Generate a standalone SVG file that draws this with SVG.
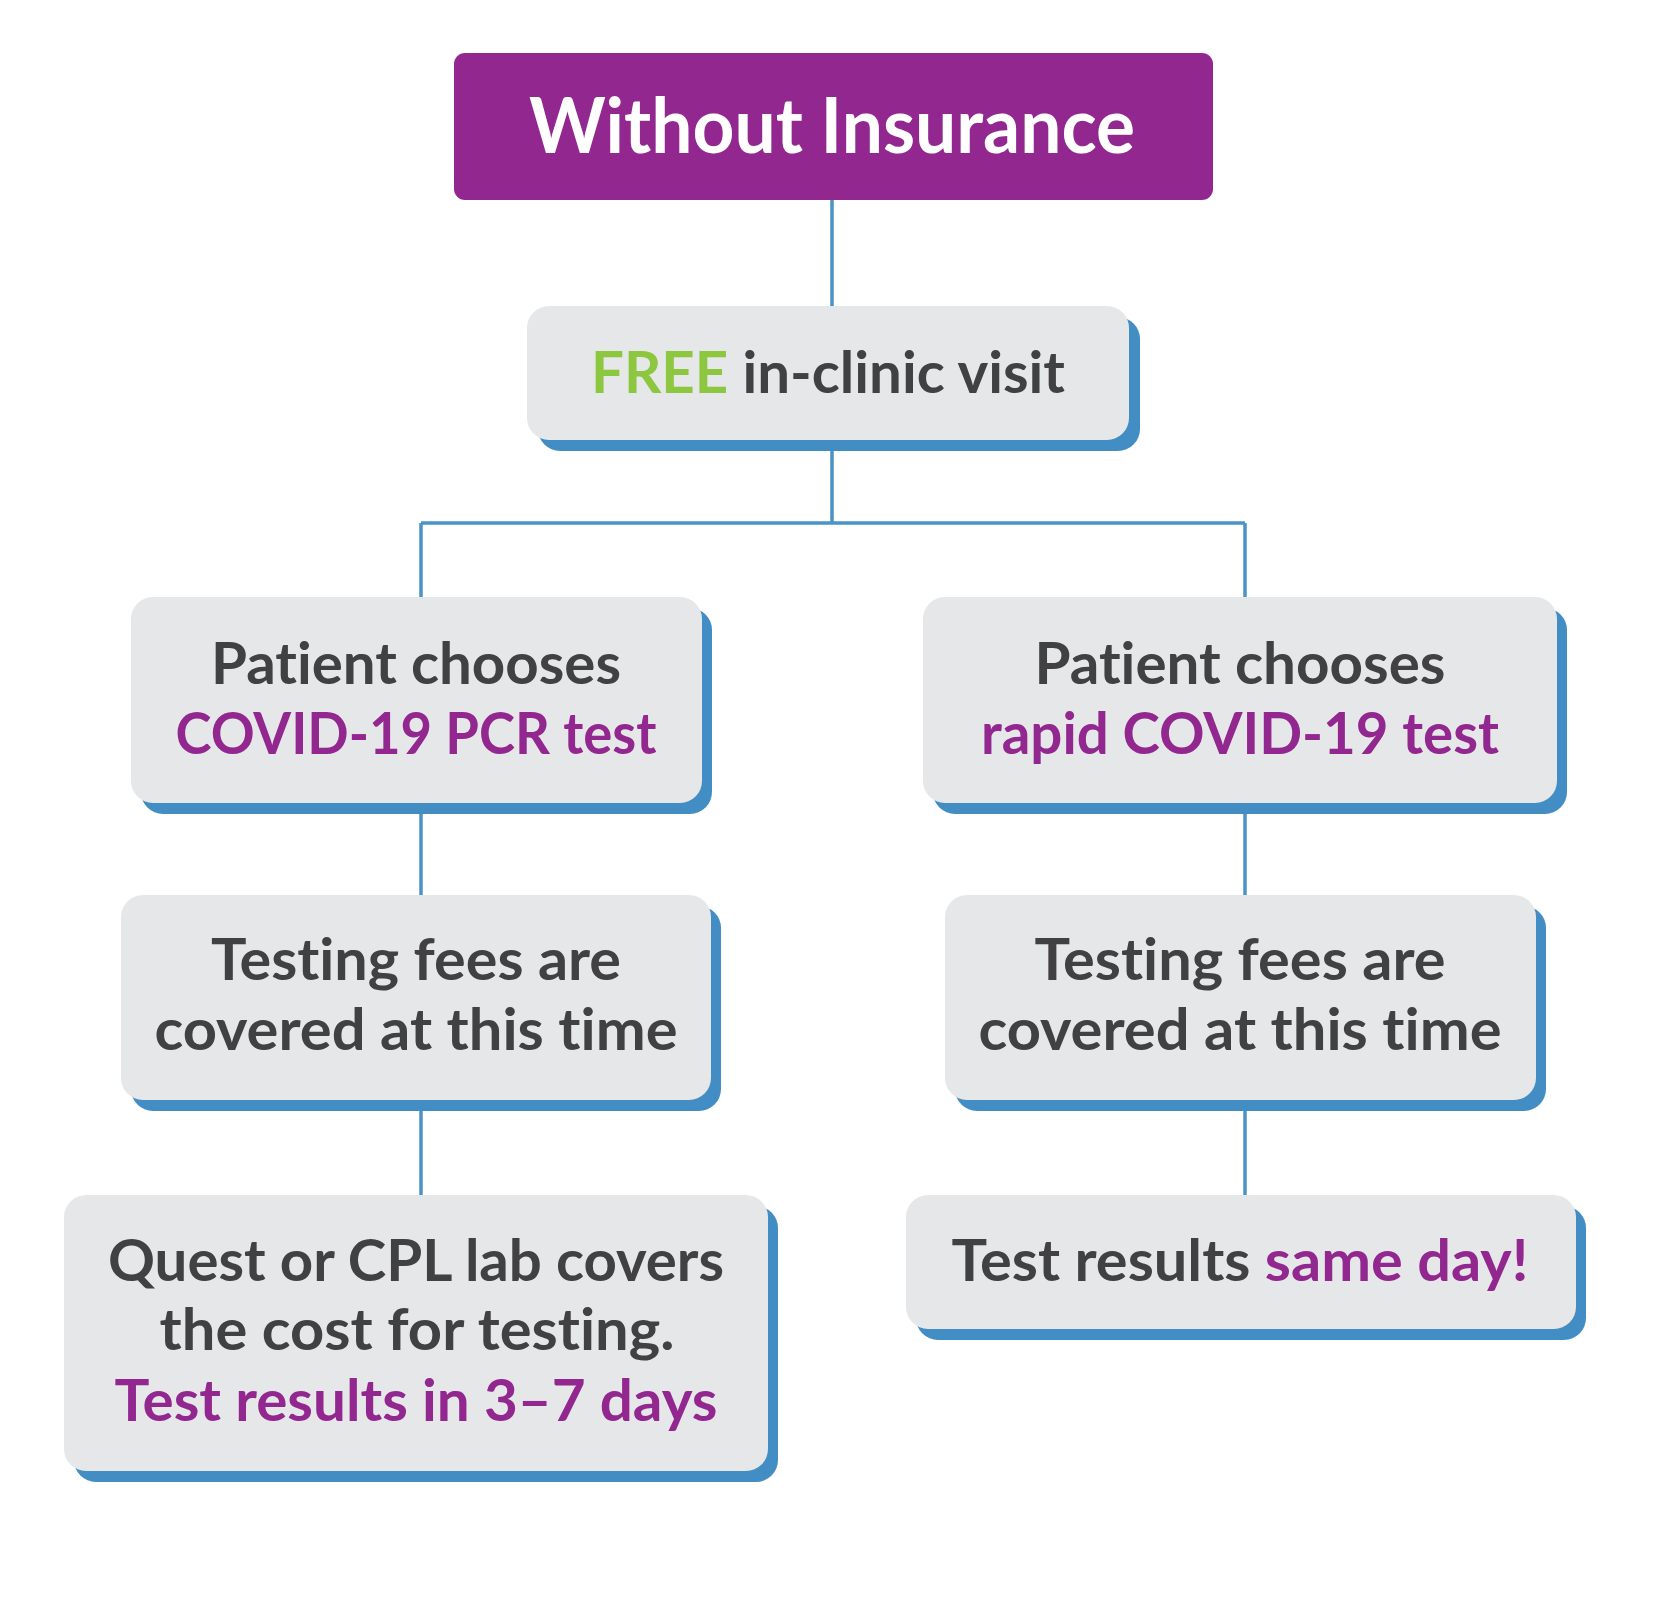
<svg xmlns="http://www.w3.org/2000/svg" width="1667" height="1599" viewBox="0 0 1667 1599">
<style>
.box{fill:#e6e7e8}
.sh{fill:#428dc3}
.t{font-family:Lato,"Open Sans","Liberation Sans",sans-serif;font-weight:700;font-size:57px;fill:#414042;text-anchor:middle;font-variant-ligatures:none}
.p{fill:#92278f}
.g{fill:#8dc63f}
.ln{stroke:#4a93c6;stroke-width:3.5;fill:none}
</style>
<rect width="1667" height="1599" fill="#ffffff"/>
<g id="connectors">
<line class="ln" x1="832" y1="200" x2="832" y2="308"/>
<path class="ln" d="M832 440 V523 M421 523 H1245 M421 523 V597 M1245 523 V597"/>
<line class="ln" x1="421" y1="803" x2="421" y2="895"/>
<line class="ln" x1="1245" y1="803" x2="1245" y2="895"/>
<line class="ln" x1="421" y1="1100" x2="421" y2="1195"/>
<line class="ln" x1="1245" y1="1100" x2="1245" y2="1195"/>
</g>
<g id="title">
<rect x="454" y="53" width="759" height="147" rx="11" fill="#92278f"/>
<text class="t" x="832" y="153" style="fill:#ffffff;font-weight:700;font-size:76px" textLength="606" lengthAdjust="spacingAndGlyphs">Without Insurance</text>
</g>
<g id="free-visit">
<rect class="sh" x="538" y="317" width="602" height="134" rx="22"/>
<rect class="box" x="527" y="306" width="602" height="134" rx="22"/>
<text class="t" x="828" y="393" textLength="474" lengthAdjust="spacingAndGlyphs"><tspan class="g">FREE</tspan> in-clinic visit</text>
</g>
<g id="pcr">
<rect class="sh" x="141" y="608" width="571" height="206" rx="22"/>
<rect class="box" x="131" y="597" width="571" height="206" rx="22"/>
<text class="t" x="416" y="684" textLength="410" lengthAdjust="spacingAndGlyphs">Patient chooses</text>
<text class="t p" x="416" y="754" textLength="481" lengthAdjust="spacingAndGlyphs">COVID-19 PCR test</text>
</g>
<g id="rapid">
<rect class="sh" x="933" y="608" width="634" height="206" rx="22"/>
<rect class="box" x="923" y="597" width="634" height="206" rx="22"/>
<text class="t" x="1240" y="684" textLength="411" lengthAdjust="spacingAndGlyphs">Patient chooses</text>
<text class="t p" x="1240" y="754" textLength="518" lengthAdjust="spacingAndGlyphs">rapid COVID-19 test</text>
</g>
<g id="fees-left">
<rect class="sh" x="131" y="906" width="590" height="205" rx="22"/>
<rect class="box" x="121" y="895" width="590" height="205" rx="22"/>
<text class="t" x="416" y="980" textLength="410" lengthAdjust="spacingAndGlyphs">Testing fees are</text>
<text class="t" x="416" y="1050" textLength="523" lengthAdjust="spacingAndGlyphs">covered at this time</text>
</g>
<g id="fees-right">
<rect class="sh" x="955" y="906" width="591" height="205" rx="22"/>
<rect class="box" x="945" y="895" width="591" height="205" rx="22"/>
<text class="t" x="1240" y="980" textLength="411" lengthAdjust="spacingAndGlyphs">Testing fees are</text>
<text class="t" x="1240" y="1050" textLength="523" lengthAdjust="spacingAndGlyphs">covered at this time</text>
</g>
<g id="lab">
<rect class="sh" x="74" y="1206" width="704" height="276" rx="22"/>
<rect class="box" x="64" y="1195" width="704" height="276" rx="22"/>
<text class="t" x="416" y="1281" textLength="616" lengthAdjust="spacingAndGlyphs">Quest or CPL lab covers</text>
<text class="t" x="417" y="1350" textLength="515" lengthAdjust="spacingAndGlyphs">the cost for testing.</text>
<text class="t p" x="416" y="1421" textLength="603" lengthAdjust="spacingAndGlyphs">Test results in 3–7 days</text>
</g>
<g id="same-day">
<rect class="sh" x="916" y="1206" width="670" height="134" rx="22"/>
<rect class="box" x="906" y="1195" width="670" height="134" rx="22"/>
<text class="t" x="1240" y="1281" textLength="577" lengthAdjust="spacingAndGlyphs">Test results <tspan class="p">same day!</tspan></text>
</g>
</svg>
